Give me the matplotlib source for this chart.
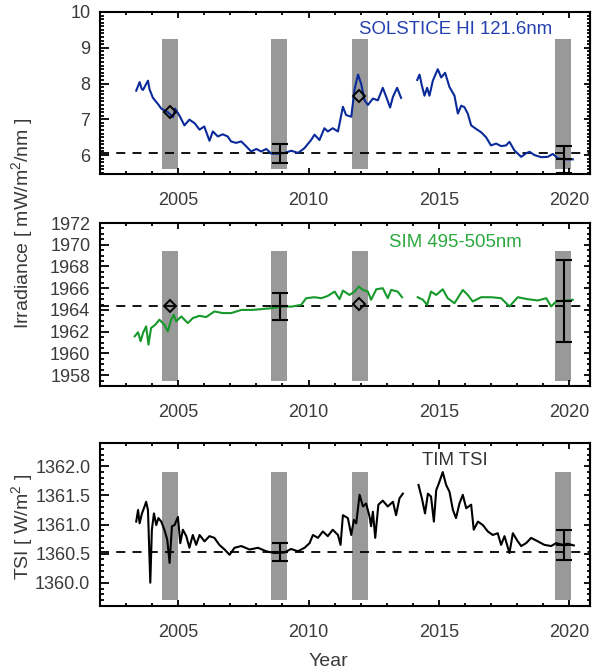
import matplotlib
matplotlib.use("Agg")
import matplotlib.pyplot as plt
from matplotlib.ticker import MultipleLocator, FormatStrFormatter

plt.rcParams['font.family'] = ['Liberation Sans', 'DejaVu Sans']
plt.rcParams['mathtext.fontset'] = 'custom'
plt.rcParams['mathtext.rm'] = 'Liberation Sans'
plt.rcParams['mathtext.it'] = 'Liberation Sans:italic'

# ---------------- SOLSTICE H I 121.6 nm (mW/m^2/nm) ----------------
sol_year_a = [2003.39, 2003.52, 2003.60, 2003.65, 2003.73, 2003.84, 2003.90, 2004.03,
              2004.22, 2004.35, 2004.60, 2004.80, 2004.88, 2005.05, 2005.24, 2005.43,
              2005.63, 2005.82, 2006.00, 2006.20, 2006.33, 2006.52, 2006.71, 2006.90,
              2007.03, 2007.22, 2007.42, 2007.60, 2007.80, 2008.00, 2008.18, 2008.38,
              2008.57, 2008.82, 2009.08, 2009.34, 2009.60, 2009.84, 2010.10, 2010.23,
              2010.42, 2010.61, 2010.74, 2010.93, 2011.13, 2011.32, 2011.44, 2011.64,
              2011.77, 2011.90, 2012.02, 2012.15, 2012.28, 2012.47, 2012.66, 2012.85,
              2012.98, 2013.13, 2013.24, 2013.40, 2013.55]
sol_val_a = [7.80, 8.04, 7.85, 7.82, 7.93, 8.08, 7.84, 7.60,
             7.43, 7.30, 7.20, 7.06, 7.30, 7.10, 6.83, 6.99,
             6.89, 6.71, 6.80, 6.40, 6.66, 6.52, 6.58, 6.52,
             6.38, 6.34, 6.38, 6.25, 6.10, 6.17, 6.10, 6.17,
             6.04, 6.04, 6.06, 6.12, 6.06, 6.19, 6.42, 6.57,
             6.42, 6.75, 6.66, 6.75, 6.66, 7.35, 7.12, 7.07,
             7.85, 8.25, 7.99, 7.53, 7.40, 7.58, 7.53, 7.88,
             7.63, 7.33, 7.63, 7.88, 7.60]
sol_year_b = [2014.17, 2014.26, 2014.35, 2014.45, 2014.55, 2014.64, 2014.77, 2014.96,
              2015.09, 2015.24, 2015.41, 2015.60, 2015.73, 2015.86, 2015.98, 2016.11,
              2016.24, 2016.43, 2016.62, 2016.81, 2017.00, 2017.20, 2017.39, 2017.58,
              2017.71, 2017.90, 2018.16, 2018.35, 2018.48, 2018.67, 2018.93, 2019.18,
              2019.37, 2019.57, 2019.82, 2020.14]
sol_val_b = [8.10, 8.25, 7.94, 7.66, 7.88, 7.66, 8.08, 8.40,
             8.17, 8.30, 7.90, 7.66, 7.16, 7.38, 7.34, 7.16,
             6.83, 6.73, 6.64, 6.50, 6.27, 6.32, 6.25, 6.27,
             6.37, 6.13, 5.95, 6.05, 6.09, 6.00, 5.94, 5.95,
             6.03, 5.91, 5.88, 5.88]

# ---------------- SIM 495-505 nm (mW/m^2/nm) ----------------
sim_year_a = [2003.33, 2003.46, 2003.56, 2003.65, 2003.77, 2003.86, 2003.96, 2004.12,
              2004.28, 2004.47, 2004.60, 2004.73, 2004.83, 2004.92, 2005.12, 2005.37,
              2005.56, 2005.82, 2006.07, 2006.39, 2006.71, 2007.03, 2007.42, 2007.80,
              2008.18, 2008.57, 2009.08, 2009.33, 2009.72, 2009.91, 2010.23, 2010.49,
              2010.74, 2011.00, 2011.19, 2011.32, 2011.57, 2011.77, 2011.93, 2012.09,
              2012.28, 2012.40, 2012.60, 2012.85, 2013.04, 2013.17, 2013.42, 2013.59]
sim_val_a = [1961.57, 1961.94, 1961.12, 1961.88, 1962.49, 1960.81, 1962.34, 1962.64,
             1963.10, 1962.64, 1962.03, 1963.10, 1963.55, 1962.95, 1963.40, 1962.79,
             1963.25, 1963.46, 1963.34, 1963.86, 1963.71, 1963.71, 1964.00, 1964.00,
             1964.07, 1964.16, 1964.32, 1964.30, 1964.47, 1965.08, 1965.17, 1965.08,
             1965.29, 1965.69, 1964.99, 1965.78, 1965.38, 1965.69, 1966.15, 1965.84,
             1965.69, 1964.93, 1965.90, 1966.00, 1965.08, 1965.84, 1965.69, 1965.17]
sim_year_b = [2014.19, 2014.39, 2014.55, 2014.70, 2014.90, 2015.15, 2015.34, 2015.60,
              2015.92, 2016.11, 2016.30, 2016.62, 2017.01, 2017.39, 2017.71, 2018.03,
              2018.41, 2018.80, 2019.12, 2019.31, 2019.50, 2019.82, 2020.14]
sim_val_b = [1965.17, 1964.93, 1964.47, 1965.69, 1965.38, 1965.90, 1965.08, 1964.62,
             1965.84, 1965.38, 1964.78, 1965.17, 1965.17, 1965.08, 1964.32, 1965.17,
             1964.99, 1964.87, 1965.08, 1964.32, 1964.78, 1964.87, 1964.93]

# ---------------- TIM total solar irradiance (W/m^2) ----------------
tsi_year_a = [2003.39, 2003.46, 2003.52, 2003.61, 2003.71, 2003.77, 2003.84, 2003.93,
              2003.99, 2004.07, 2004.16, 2004.24, 2004.35, 2004.47, 2004.58, 2004.67,
              2004.76, 2004.86, 2004.99, 2005.08, 2005.18, 2005.31, 2005.43, 2005.56,
              2005.69, 2005.82, 2006.01, 2006.20, 2006.39, 2006.58, 2006.78, 2006.97,
              2007.16, 2007.42, 2007.74, 2008.06, 2008.38, 2008.69, 2009.08, 2009.33,
              2009.59, 2009.85, 2010.04, 2010.17, 2010.36, 2010.55, 2010.74, 2010.93,
              2011.13, 2011.23, 2011.32, 2011.51, 2011.64, 2011.74, 2011.83, 2011.96,
              2012.09, 2012.21, 2012.34, 2012.40, 2012.47, 2012.56, 2012.68, 2012.85,
              2013.04, 2013.24, 2013.36, 2013.49, 2013.62]
tsi_val_a = [1361.05, 1361.25, 1361.02, 1361.19, 1361.31, 1361.39, 1361.25, 1360.00,
             1360.91, 1361.19, 1360.99, 1361.11, 1361.05, 1360.91, 1360.74, 1360.34,
             1360.97, 1360.99, 1361.13, 1360.68, 1360.91, 1360.80, 1360.60, 1360.82,
             1360.65, 1360.82, 1360.71, 1360.80, 1360.77, 1360.65, 1360.57, 1360.48,
             1360.60, 1360.63, 1360.57, 1360.60, 1360.54, 1360.51, 1360.52, 1360.58,
             1360.54, 1360.60, 1360.68, 1360.82, 1360.77, 1360.88, 1360.80, 1360.91,
             1360.82, 1360.65, 1361.16, 1361.11, 1360.82, 1361.08, 1361.02, 1361.51,
             1361.31, 1361.36, 1361.14, 1360.97, 1361.22, 1360.77, 1361.34, 1361.41,
             1361.31, 1361.39, 1361.16, 1361.45, 1361.53]
tsi_year_b = [2014.22, 2014.35, 2014.47, 2014.58, 2014.70, 2014.81, 2014.90, 2015.02,
              2015.15, 2015.28, 2015.41, 2015.54, 2015.66, 2015.79, 2015.92, 2016.05,
              2016.24, 2016.34, 2016.50, 2016.69, 2016.88, 2017.07, 2017.26, 2017.39,
              2017.52, 2017.71, 2017.84, 2018.03, 2018.16, 2018.35, 2018.54, 2018.80,
              2019.05, 2019.31, 2019.50, 2019.76, 2019.95, 2020.18]
tsi_val_b = [1361.68, 1361.45, 1361.19, 1361.53, 1361.48, 1361.05, 1361.59, 1361.73,
             1361.90, 1361.68, 1361.56, 1361.25, 1361.11, 1361.36, 1361.51, 1361.28,
             1361.34, 1360.91, 1361.05, 1360.99, 1360.88, 1360.82, 1360.85, 1360.65,
             1360.80, 1360.51, 1360.85, 1360.71, 1360.63, 1360.68, 1360.77, 1360.71,
             1360.65, 1360.63, 1360.68, 1360.65, 1360.67, 1360.64]

# ---------------- comparison epochs ----------------
epoch_centers = [2004.69, 2008.87, 2011.98, 2019.77]
epoch_width = 0.6
band_limits = {'sol': (5.6, 9.25), 'sim': (1957.5, 1969.4), 'tsi': (1359.7, 1361.9)}

ref_level = {'sol': 6.05, 'sim': 1964.32, 'tsi': 1360.53}

err_years = [2008.9, 2019.8]
err_center = {'sol': [6.05, 5.88], 'sim': [1964.32, 1964.84], 'tsi': [1360.53, 1360.65]}
err_size = {'sol': [0.26, 0.37], 'sim': [1.24, 3.80], 'tsi': [0.16, 0.26]}

diamond_years = [2004.70, 2011.95]
diamond_vals = {'sol': [7.21, 7.66], 'sim': [1964.32, 1964.56]}

panel_titles = {'sol': 'SOLSTICE HI 121.6nm', 'sim': 'SIM 495-505nm', 'tsi': 'TIM TSI'}
panel_colors = {'sol': '#0a2a9a', 'sim': '#16992a', 'tsi': 'black'}
title_colors = {'sol': '#2440b0', 'sim': '#2aa83c', 'tsi': '#333333'}
ylims = {'sol': (5.47, 10.0), 'sim': (1957.0, 1972.0), 'tsi': (1359.6, 1362.4)}
ymajor = {'sol': 1.0, 'sim': 2.0, 'tsi': 0.5}
yminor = {'sol': 0.1, 'sim': 0.5, 'tsi': 0.1}
yfmt = {'sol': '%d', 'sim': '%d', 'tsi': '%.1f'}

series = {
    'sol': [(sol_year_a, sol_val_a), (sol_year_b, sol_val_b)],
    'sim': [(sim_year_a, sim_val_a), (sim_year_b, sim_val_b)],
    'tsi': [(tsi_year_a, tsi_val_a), (tsi_year_b, tsi_val_b)],
}

W, H = 593, 672
fig = plt.figure(figsize=(W / 100, H / 100), dpi=100)

# axes boxes in pixels: (top, bottom)
boxes = {'sol': (12, 174), 'sim': (223, 386), 'tsi': (443, 606)}
left_px, right_px = 100, 590
label_gray = '#3a3a3a'
tick_fs = 13
text_fs = 13.4

for key in ['sol', 'sim', 'tsi']:
    top, bot = boxes[key]
    ax = fig.add_axes([left_px / W, 1 - bot / H, (right_px - left_px) / W, (bot - top) / H])

    lo, hi = band_limits[key]
    ax.bar(epoch_centers, hi - lo, bottom=lo, width=epoch_width,
           color='#999999', zorder=1, linewidth=0)

    for yrs, vals in series[key]:
        ax.plot(yrs, vals, color=panel_colors[key], lw=1.5, zorder=3)

    ax.axhline(ref_level[key], color='black', lw=1.3, ls=(0, (5, 4)), zorder=2)

    ax.errorbar(err_years, err_center[key], yerr=err_size[key], fmt='_',
                color='black', ms=12, mew=1.5, elinewidth=1.5,
                capsize=6, capthick=1.5, zorder=4)

    if key in diamond_vals:
        ax.plot(diamond_years, diamond_vals[key], ls='none', marker='D', ms=6,
                mfc='none', mec='black', mew=1.4, zorder=5)

    ax.text(0.725, 0.89 if key != 'sim' else 0.88, panel_titles[key],
            transform=ax.transAxes, ha='center', va='center',
            fontsize=text_fs, color=title_colors[key])

    ax.set_xlim(2002.0, 2020.8)
    ax.set_ylim(*ylims[key])
    ax.xaxis.set_major_locator(MultipleLocator(5))
    ax.xaxis.set_minor_locator(MultipleLocator(1))
    ax.yaxis.set_major_locator(MultipleLocator(ymajor[key]))
    ax.yaxis.set_minor_locator(MultipleLocator(yminor[key]))
    ax.yaxis.set_major_formatter(FormatStrFormatter(yfmt[key]))

    ax.tick_params(axis='x', which='both', direction='in', top=True, bottom=True,
                   width=1.3, labelsize=tick_fs, labelcolor=label_gray, pad=13)
    ax.tick_params(axis='x', which='major', length=4.5)
    ax.tick_params(axis='x', which='minor', length=2.5)
    ax.tick_params(axis='y', which='both', direction='in', left=True, right=False,
                   width=1.3, labelsize=tick_fs, labelcolor=label_gray, pad=7)
    ax.tick_params(axis='y', which='major', length=6.5)
    ax.tick_params(axis='y', which='minor', length=3)

    sec = ax.secondary_yaxis('right')
    sec.yaxis.set_major_locator(MultipleLocator(ymajor[key]))
    sec.yaxis.set_minor_locator(MultipleLocator(yminor[key]))
    sec.tick_params(axis='y', which='both', direction='in', width=1.3, labelright=False)
    sec.tick_params(axis='y', which='major', length=4.5)
    sec.tick_params(axis='y', which='minor', length=2.5)
    sec.spines['right'].set_linewidth(1.5)

    for s in ax.spines.values():
        s.set_linewidth(1.5)

fig.text(22 / W, 1 - 223 / H, 'Irradiance [ mW/m$^2$/nm ]', rotation=90,
         ha='center', va='center', fontsize=14, color=label_gray)
fig.text(22 / W, 1 - 527 / H, 'TSI [ W/m$^2$ ]', rotation=90,
         ha='center', va='center', fontsize=14, color=label_gray)
fig.text(328 / W, 1 - 661 / H, 'Year', ha='center', va='center',
         fontsize=14, color=label_gray)

fig.savefig('out.png', dpi=100)
